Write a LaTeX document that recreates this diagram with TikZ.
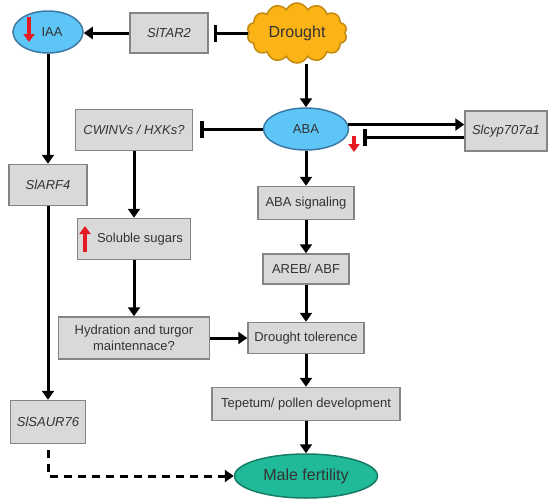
\documentclass[tikz,border=0pt]{standalone}
\usepackage{fontspec}
\setmainfont{Liberation Sans}
\usetikzlibrary{arrows.meta,shapes.geometric,shapes.symbols}
\definecolor{boxfill}{HTML}{D9D9D9}
\definecolor{boxline}{HTML}{858585}
\definecolor{txt}{HTML}{333333}
\definecolor{blfill}{HTML}{5EC6F6}
\definecolor{blline}{HTML}{3B78A6}
\definecolor{orfill}{HTML}{FBB316}
\definecolor{orline}{HTML}{C48A10}
\definecolor{tealfill}{HTML}{20BA98}
\definecolor{tealline}{HTML}{167C66}
\definecolor{redarr}{HTML}{E51A22}
\begin{document}
\begin{tikzpicture}[x=1pt,y=-1pt,
  gbox/.style={draw=boxline, fill=boxfill, line width=1.5pt, inner sep=0pt, text=txt,
    font=\fontsize{13}{15.5}\selectfont, align=center},
  gene/.style={gbox, font=\fontsize{13}{15.5}\selectfont\itshape},
  oval/.style={ellipse, draw=blline, fill=blfill, line width=1.5pt, inner sep=0pt, text=txt,
    font=\fontsize{13}{15.5}\selectfont},
  arr/.style={line width=3pt, -{Triangle[length=9pt,width=12pt]}},
  inh/.style={line width=3pt, -{Bar[width=17pt,line width=3.5pt]}},
  updown/.style={draw=redarr, line width=3.5pt, -{Triangle[length=8pt,width=11pt]}},
]
\useasboundingbox (0,0) rectangle (550,501);

% nodes
\node[oval, minimum width=70pt, minimum height=42pt] (iaa) at (48,32) {\hspace{8pt}IAA};
\node[gene, minimum width=78pt, minimum height=40pt] (tar2) at (169,33) {SlTAR2};
\node[cloud, cloud puffs=14, cloud puff arc=130, aspect=1.8, draw=orline, fill=orfill,
      line width=1.5pt, inner sep=0pt, minimum width=100pt, minimum height=60pt,
      text=txt, font=\fontsize{16}{19}\selectfont] (drought) at (297,33) {Drought};
\node[oval, minimum width=85pt, minimum height=42pt] (aba) at (306,129) {ABA};
\node[gene, minimum width=82pt, minimum height=40pt] (cyp) at (506,131) {Slcyp707a1};
\node[gene, minimum width=117pt, minimum height=41pt] (cwinv) at (134,130) {CWINVs / HXKs?};
\node[gene, minimum width=78pt, minimum height=41pt] (arf4) at (48,185) {SlARF4};
\node[gbox, minimum width=113pt, minimum height=41pt] (sugar) at (134,239) {\hspace{12pt}Soluble sugars};
\node[gbox, minimum width=96pt, minimum height=33pt] (abasig) at (306,203) {ABA signaling};
\node[gbox, minimum width=86pt, minimum height=30pt] (areb) at (306,269) {AREB/ ABF};
\node[gbox, minimum width=151pt, minimum height=42pt] (hyd) at (134,338) {Hydration and turgor\\maintennace?};
\node[gbox, minimum width=116pt, minimum height=31pt] (dt) at (306,338) {Drought tolerence};
\node[gbox, minimum width=188pt, minimum height=33pt] (tep) at (306,404) {Tepetum/ pollen development};
\node[gene, minimum width=75pt, minimum height=43pt] (saur) at (48,422) {SlSAUR76};
\node[ellipse, draw=tealline, fill=tealfill, line width=1.5pt, inner sep=0pt,
      minimum width=143pt, minimum height=44pt, text=txt,
      font=\fontsize{16}{19}\selectfont] (male) at (306,476) {Male fertility};

% connectors
\draw[inh, shorten >=5pt] (drought.west) -- (drought.west -| tar2.east);
\draw[arr] (tar2.west) -- (tar2.west -| iaa.east);
\draw[arr] (aba |- drought.south) -- (aba.north);
\draw[arr] (aba.6) -- (aba.6 -| cyp.west);
\draw[inh, shorten >=14pt] ([yshift=-6pt]cyp.west) -- ([yshift=-6pt]cyp.west -| aba.east);
\draw[inh, shorten >=7pt] (aba.west) -- (aba.west -| cwinv.east);
\draw[arr] (iaa.south) -- (arf4.north);
\draw[arr] (arf4.south) -- (saur.north);
\draw[arr] (cwinv.south) -- (sugar.north);
\draw[arr] (sugar.south) -- (hyd.north);
\draw[arr] (aba.south) -- (abasig.north);
\draw[arr] (abasig.south) -- (areb.north);
\draw[arr] (areb.south) -- (dt.north);
\draw[arr] (hyd.east) -- (dt.west);
\draw[arr] (dt.south) -- (tep.north);
\draw[arr] (tep.south) -- (male.north);
\draw[line width=3pt, dash pattern=on 8pt off 6pt, -{Triangle[length=9pt,width=12pt]},
      shorten <=6pt] (saur.south) |- (male.west);

% red indicator arrows
\coordinate (r1a) at (29,17); \coordinate (r1b) at (29,42);
\draw[updown] (r1a) -- (r1b);
\coordinate (r2a) at (354,136); \coordinate (r2b) at (354,152);
\draw[updown] (r2a) -- (r2b);
\coordinate (r3a) at (85,252); \coordinate (r3b) at (85,226);
\draw[updown] (r3a) -- (r3b);
\end{tikzpicture}
\end{document}
